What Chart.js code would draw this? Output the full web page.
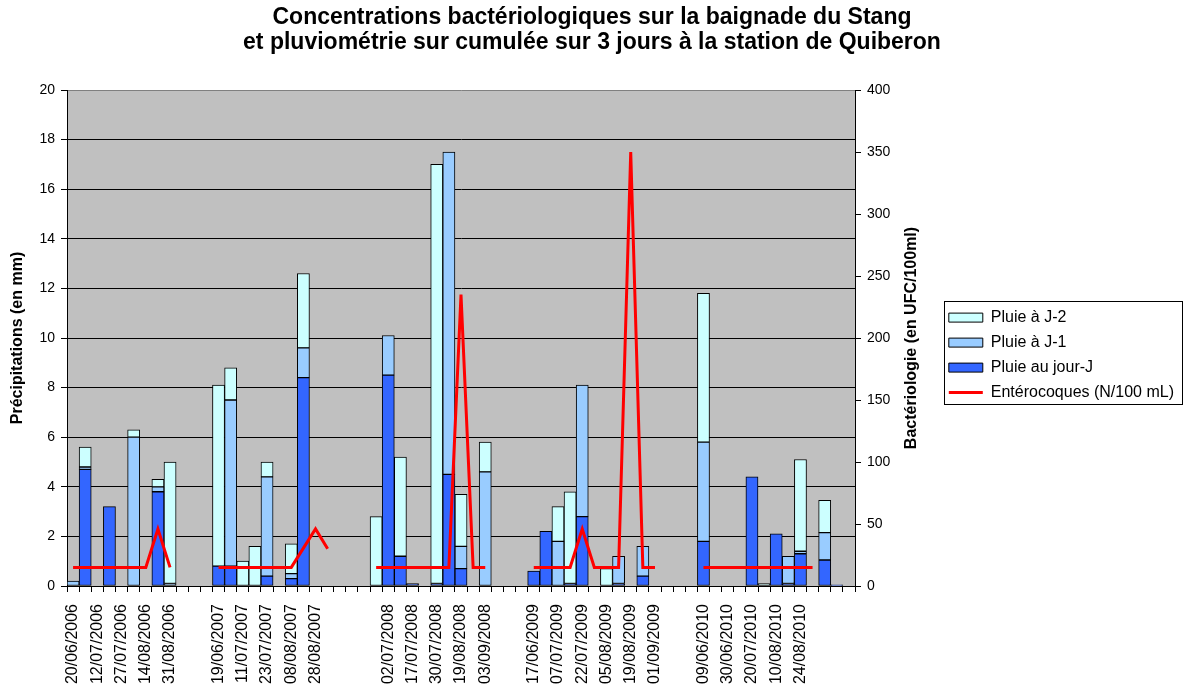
<!DOCTYPE html>
<html>
<head>
<meta charset="utf-8">
<script src="https://cdn.jsdelivr.net/npm/chart.js@4.4.1/dist/chart.umd.min.js"></script>
<style>
body { margin: 0; background: #fff; }
</style>
</head>
<body>
<canvas id="chart" width="1184" height="689"></canvas>
<script>
var titleLines = ['Concentrations bactériologiques sur la baignade du Stang',
	'et pluviométrie sur cumulée sur 3 jours à la station de Quiberon'];
var leftAxisLabel = 'Précipitations (en mm)';
var rightAxisLabel = 'Bactériologie (en UFC/100ml)';

// one category per sampling date, only every second date is labelled
var dates = [
	'20/06/2006', '', '12/07/2006', '', '27/07/2006', '', '14/08/2006', '', '31/08/2006', '',
	'', '', '19/06/2007', '', '11/07/2007', '', '23/07/2007', '', '08/08/2007', '',
	'28/08/2007', '', '', '', '', '', '02/07/2008', '', '17/07/2008', '',
	'30/07/2008', '', '19/08/2008', '', '03/09/2008', '', '', '', '17/06/2009', '',
	'07/07/2009', '', '22/07/2009', '', '05/08/2009', '', '19/08/2009', '', '01/09/2009', '',
	'', '', '09/06/2010', '', '30/06/2010', '', '20/07/2010', '', '10/08/2010', '',
	'24/08/2010', '', '', '', ''
];

var pluieJourJ = [
	null, 4.7, null, 3.2, null, null, null, 3.8, null, null,
	null, null, 0.8, 0.8, null, null, 0.4, null, 0.3, 8.4,
	null, null, null, null, null, null, 8.5, 1.2, 0.1, null,
	0.1, 4.5, 0.7, null, null, null, null, null, 0.6, 2.2,
	null, 0.1, 2.8, null, null, 0.1, null, 0.4, null, null,
	null, null, 1.8, null, null, null, 4.4, null, 2.1, 0.1,
	1.3, null, 1.05, 0.05, null
];

var pluieJ1 = [
	0.2, 0.1, null, null, null, 6.0, null, 0.2, 0.1, null,
	null, null, null, 6.7, null, null, 4.0, null, 0.2, 1.2,
	null, null, null, null, null, null, 1.6, null, null, null,
	null, 13.0, 0.9, null, 4.6, null, null, null, null, null,
	1.8, null, 5.3, null, null, 1.1, null, 1.2, null, null,
	null, null, 4.0, null, null, null, null, null, null, 1.1,
	0.1, null, 1.1, null, null
];

var pluieJ2 = [
	null, 0.8, null, null, null, 0.3, null, 0.3, 4.9, null,
	null, null, 7.3, 1.3, 1.0, 1.6, 0.6, null, 1.2, 3.0,
	null, null, null, null, null, 2.8, null, 4.0, null, null,
	16.9, null, 2.1, null, 1.2, null, null, null, null, null,
	1.4, 3.7, null, null, 0.7, null, null, null, null, null,
	null, null, 6.0, null, null, null, null, 0.1, null, null,
	3.7, null, 1.3, null, null
];

var enterocoques = [
	15, 15, 15, 15, 15, 15, 15, 46, 15, null,
	null, null, 15, 15, 15, 15, 15, 15, 15, null,
	46, 30, null, null, null, 15, 15, 15, 15, 15,
	15, 15, 235, 15, 15, null, null, null, 15, 15,
	15, 15, 46, 15, 15, 15, 350, 15, 15, null,
	null, null, 15, 15, 15, 15, 15, 15, 15, 15,
	15, 15, null, null, null
];

// legend shows J-2, J-1, jour-J, then the line
var legendRank = [2, 1, 0, 3];

// only the measured samples; a single missing sample is bridged, a season gap is not
var enteroPoints = enterocoques
	.map(function (v, i) { return { x: i, y: v }; })
	.filter(function (p) { return p.y !== null; });

Chart.defaults.font.family = '"Liberation Sans", Arial, sans-serif';
Chart.defaults.color = '#000';

var plotBackground = {
	id: 'plotBackground',
	beforeDraw: function (chart) {
		var a = chart.chartArea;
		var ctx = chart.ctx;
		ctx.save();
		ctx.fillStyle = '#c0c0c0';
		ctx.fillRect(a.left, a.top, a.right - a.left, a.bottom - a.top);
		ctx.restore();
	}
};

var legendFrame = {
	id: 'legendFrame',
	afterDraw: function (chart) {
		var lg = chart.legend;
		var hb = lg.legendHitBoxes;
		if (!hb || !hb.length) return;
		var last = hb[hb.length - 1];
		var x0 = Math.round(hb[0].left - 5) + 0.5;
		var y0 = Math.round(hb[0].top - 9) + 0.5;
		var x1 = Math.round(lg.right - 1) - 0.5;
		var y1 = Math.round(last.top + last.height + 3) + 0.5;
		var ctx = chart.ctx;
		ctx.save();
		ctx.strokeStyle = '#000';
		ctx.lineWidth = 1;
		ctx.strokeRect(x0, y0, x1 - x0, y1 - y0);
		ctx.restore();
	}
};

var rightAxisTitle = {
	id: 'rightAxisTitle',
	afterDraw: function (chart) {
		var s = chart.scales.y1;
		var ctx = chart.ctx;
		ctx.save();
		ctx.translate(s.right - 28, (s.top + s.bottom) / 2);
		ctx.rotate(-Math.PI / 2);
		ctx.font = 'bold 16px "Liberation Sans", Arial, sans-serif';
		ctx.fillStyle = '#000';
		ctx.textAlign = 'center';
		ctx.textBaseline = 'middle';
		ctx.fillText(rightAxisLabel, 0, 0);
		ctx.restore();
	}
};

var ctx = document.getElementById('chart').getContext('2d');
new Chart(ctx, {
	type: 'bar',
	data: {
		labels: dates,
		datasets: [{
			label: 'Pluie au jour-J',
			data: pluieJourJ,
			backgroundColor: '#3366ff',
			borderColor: '#000',
			borderWidth: 1,
			borderSkipped: false,
			pointStyle: 'rect',
			yAxisID: 'y',
			order: 1
		}, {
			label: 'Pluie à J-1',
			data: pluieJ1,
			backgroundColor: '#99ccff',
			borderColor: '#000',
			borderWidth: 1,
			borderSkipped: false,
			pointStyle: 'rect',
			yAxisID: 'y',
			order: 1
		}, {
			label: 'Pluie à J-2',
			data: pluieJ2,
			backgroundColor: '#ccffff',
			borderColor: '#000',
			borderWidth: 1,
			borderSkipped: false,
			pointStyle: 'rect',
			yAxisID: 'y',
			order: 1
		}, {
			type: 'line',
			label: 'Entérocoques (N/100 mL)',
			data: enteroPoints,
			parsing: false,
			borderColor: '#ff0000',
			backgroundColor: '#ff0000',
			borderWidth: 3,
			pointRadius: 0,
			pointHoverRadius: 0,
			pointStyle: 'line',
			pointBorderColor: '#ff0000',
			pointBorderWidth: 3,
			tension: 0,
			spanGaps: 2,
			fill: false,
			yAxisID: 'y1',
			order: 0
		}]
	},
	options: {
		responsive: false,
		animation: false,
		layout: { padding: 0 },
		datasets: {
			bar: { barPercentage: 1, categoryPercentage: 1 }
		},
		plugins: {
			title: {
				display: true,
				text: titleLines,
				color: '#000',
				font: { size: 23, weight: 'bold', lineHeight: 1.05 },
				padding: { top: 6, bottom: 35.7 }
			},
			legend: {
				position: 'right',
				align: 'center',
				maxWidth: 245,
				title: { display: true, text: '', font: { size: 1 }, padding: { top: 20, bottom: 0 } },
				labels: {
					usePointStyle: true,
					pointStyleWidth: 34,
					boxHeight: 9,
					padding: 9,
					color: '#000',
					font: { size: 16 },
					sort: function (a, b) {
						return legendRank[a.datasetIndex] - legendRank[b.datasetIndex];
					}
				}
			},
			tooltip: { enabled: false }
		},
		scales: {
			x: {
				stacked: true,
				offset: true,
				grid: {
					display: true,
					offset: true,
					drawOnChartArea: false,
					drawTicks: true,
					tickLength: 6,
					color: '#000'
				},
				border: { color: '#000' },
				ticks: {
					autoSkip: false,
					minRotation: 90,
					maxRotation: 90,
					padding: 12,
					color: '#000',
					font: { size: 16 }
				},
				afterFit: function (s) { s.height = 103; }
			},
			y: {
				stacked: true,
				position: 'left',
				min: 0,
				max: 20,
				ticks: { stepSize: 2, padding: 6, color: '#000', font: { size: 14 } },
				grid: {
					color: function (c) { return c.tick && c.tick.value === 20 ? '#808080' : '#000'; },
					tickColor: '#000',
					tickLength: 6
				},
				border: { color: '#000' },
				title: {
					display: true,
					text: leftAxisLabel,
					color: '#000',
					font: { size: 16, weight: 'bold' },
					padding: { top: 8, bottom: 0 }
				},
				afterFit: function (s) { s.width = 67; }
			},
			y1: {
				position: 'right',
				min: 0,
				max: 400,
				ticks: { stepSize: 50, padding: 6, color: '#000', font: { size: 14 } },
				grid: { drawOnChartArea: false, tickLength: 6, color: '#000' },
				border: { color: '#000' },
				afterFit: function (s) { s.width = 1184 - s.chart.legend.width - 855; }
			}
		}
	},
	plugins: [plotBackground, legendFrame, rightAxisTitle]
});
</script>
</body>
</html>
